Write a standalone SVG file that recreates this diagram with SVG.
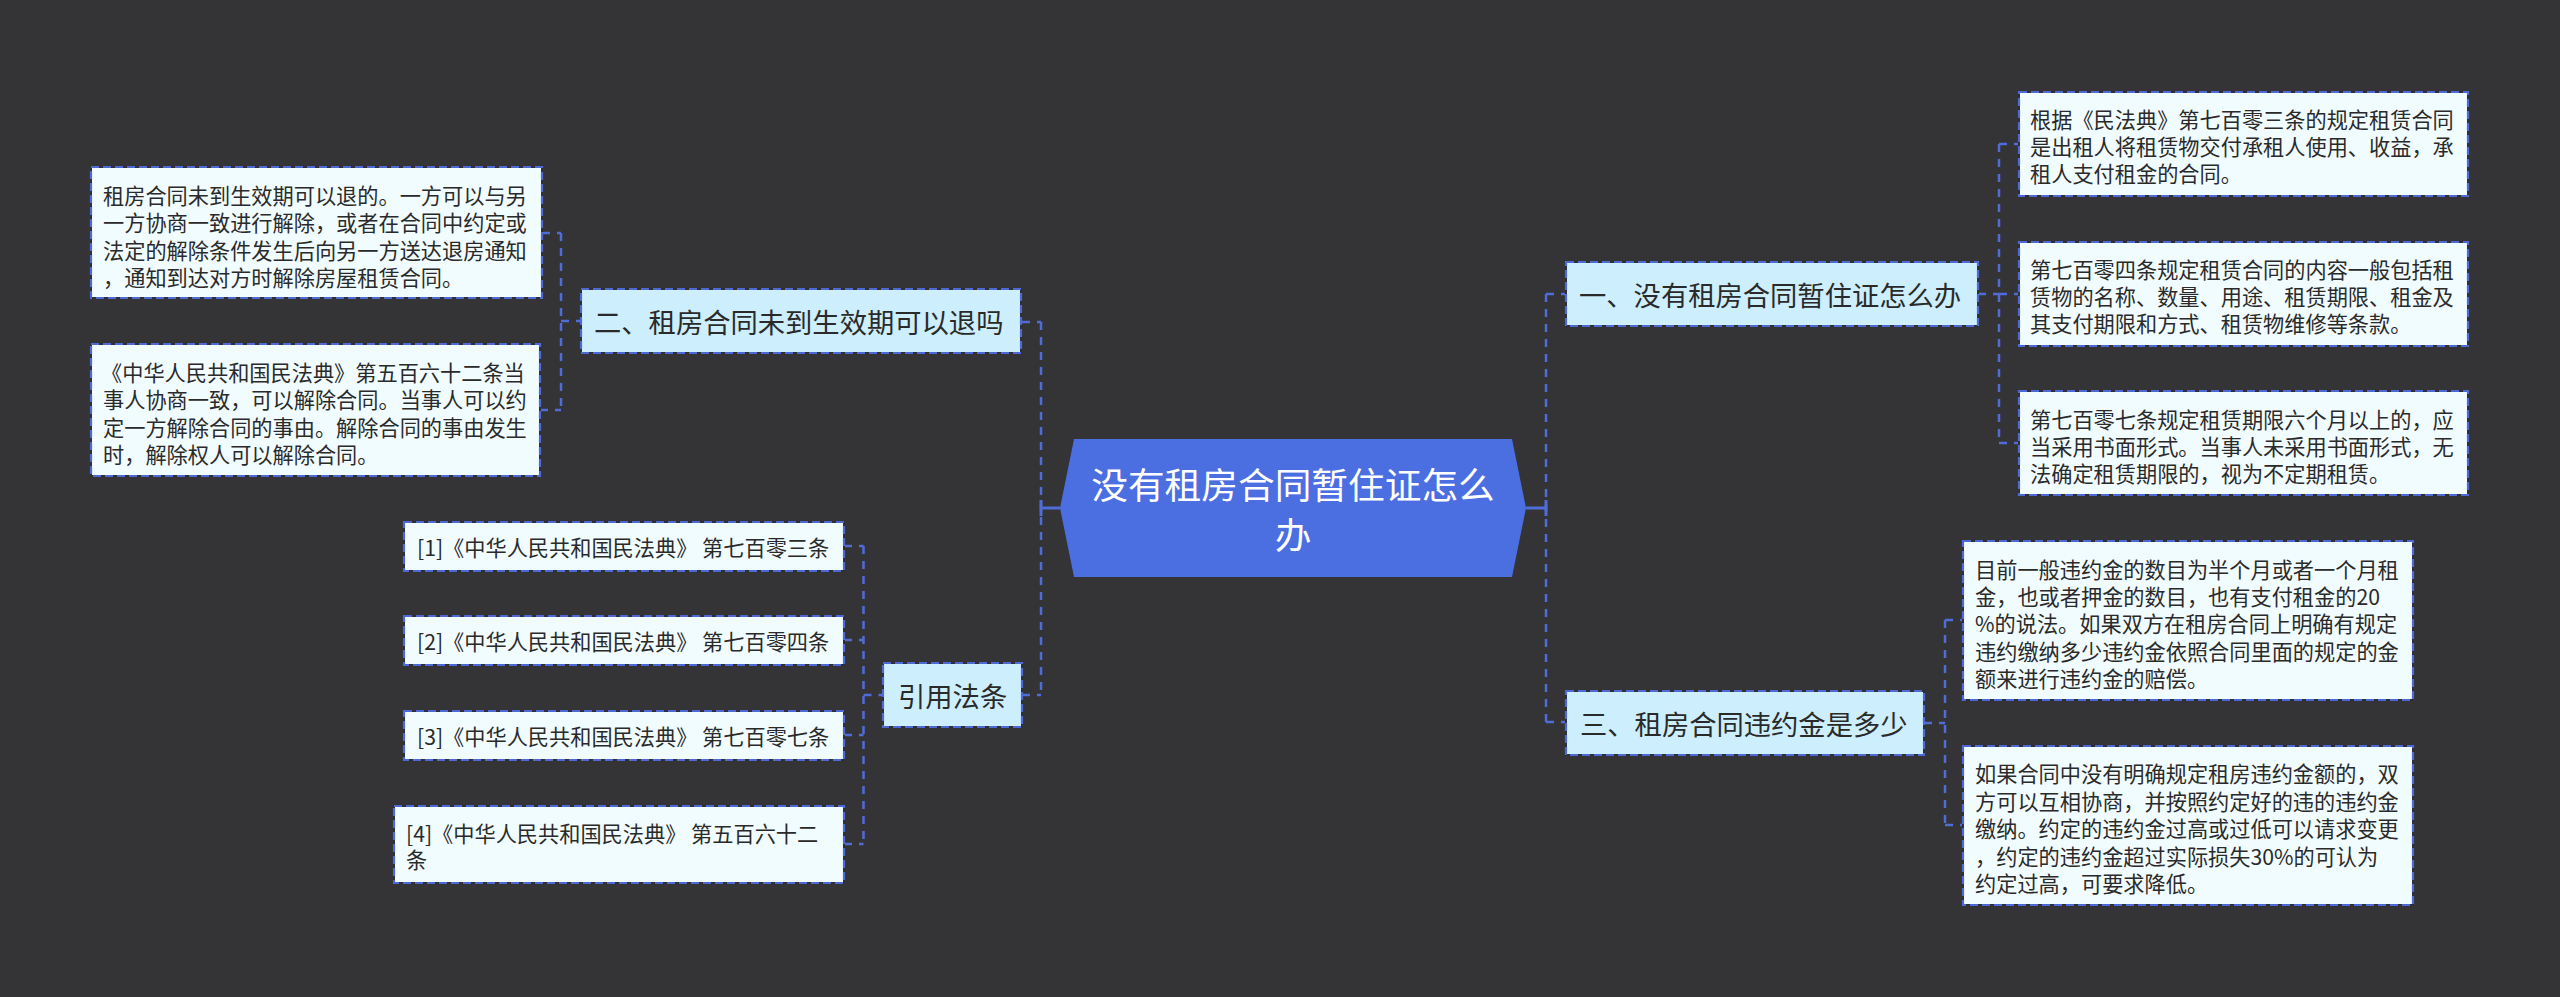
<svg xmlns="http://www.w3.org/2000/svg" width="2560" height="997" viewBox="0 0 2560 997">
<style>
.bg{fill:#343335}
.root{fill:#4b6ee1}
.l1{fill:#cdeefd;stroke:#2e2e38;stroke-width:2}
.leaf{fill:#f1fcff;stroke:#2e2e38;stroke-width:2}
.bd{fill:none;stroke:#4f69d4;stroke-width:2.2;stroke-dasharray:8 4}
.t{font-family:"Noto Sans CJK SC","Noto Sans",sans-serif;fill:#2a2a2a;dominant-baseline:central}
.ts{font-size:21.2px}
.tm{font-size:27.3px}
.tr{font-size:36.7px;fill:#ffffff;text-anchor:middle}
.c{fill:none;stroke:#4f6cd8;stroke-width:2.5;stroke-dasharray:8 7}
.cs{fill:none;stroke:#4f6cd8;stroke-width:3}
</style>
<rect class="bg" x="0" y="0" width="2560" height="997"/>

<g id="connectors">
  <!-- left main -->
  <path class="cs" d="M1060,508 H1041 M1041,500 V516"/>
  <path class="c" d="M1041,322 V695"/>
  <path class="c" d="M1022,322 H1041 M1022,695 H1041"/>
  <!-- node 二 bracket -->
  <path class="c" d="M561,233 V410 M542,233 H561 M540,410 H561 M561,321 H581"/>
  <!-- 引用法条 bracket -->
  <path class="c" d="M863.5,546 V844 M844,546 H863.5 M844,640 H863.5 M844,735 H863.5 M844,844 H863.5 M863.5,695 H883"/>
  <!-- right main -->
  <path class="cs" d="M1526,508 H1546 M1546,500 V516"/>
  <path class="c" d="M1546,294 V722"/>
  <path class="c" d="M1546,294 H1566 M1546,722 H1566"/>
  <!-- node 一 bracket -->
  <path class="c" d="M1999,144 V443 M1999,144 H2019 M1999,294 H2019 M1999,443 H2019 M1978,294 H1999"/>
  <!-- node 三 bracket -->
  <path class="c" d="M1945,620 V825 M1945,620 H1963 M1945,825 H1963 M1924,723 H1945"/>
</g>

<g id="root">
  <polygon class="root" points="1060,508 1074,439 1512,439 1526,508 1512,577 1074,577"/>
  <text class="t tr" x="1293" y="483">没有租房合同暂住证怎么</text>
  <text class="t tr" x="1293" y="533">办</text>
</g>

<g id="n2">
  <rect class="l1" x="581" y="289" width="440" height="64"/>
  <rect class="bd" x="581" y="289" width="440" height="64"/>
  <text class="t tm" x="594" y="321">二、租房合同未到生效期可以退吗</text>
</g>

<g id="n2a">
  <rect class="leaf" x="91" y="167" width="451" height="131"/>
  <rect class="bd" x="91" y="167" width="451" height="131"/>
  <text class="t ts" x="103" y="194">租房合同未到生效期可以退的。一方可以与另</text>
  <text class="t ts" x="103" y="221.5">一方协商一致进行解除，或者在合同中约定或</text>
  <text class="t ts" x="103" y="249">法定的解除条件发生后向另一方送达退房通知</text>
  <text class="t ts" x="103" y="276.5">，通知到达对方时解除房屋租赁合同。</text>
</g>

<g id="n2b">
  <rect class="leaf" x="91" y="344" width="449" height="132"/>
  <rect class="bd" x="91" y="344" width="449" height="132"/>
  <text class="t ts" x="101" y="371">《中华人民共和国民法典》第五百六十二条当</text>
  <text class="t ts" x="103" y="398.5">事人协商一致，可以解除合同。当事人可以约</text>
  <text class="t ts" x="103" y="426">定一方解除合同的事由。解除合同的事由发生</text>
  <text class="t ts" x="103" y="453.5">时，解除权人可以解除合同。</text>
</g>

<g id="ref">
  <rect class="l1" x="883" y="663" width="139" height="64"/>
  <rect class="bd" x="883" y="663" width="139" height="64"/>
  <text class="t tm" x="898" y="695">引用法条</text>
</g>

<g id="ref1">
  <rect class="leaf" x="404" y="522" width="440" height="49"/>
  <rect class="bd" x="404" y="522" width="440" height="49"/>
  <text class="t ts" x="417" y="546.5">[1]《中华人民共和国民法典》 第七百零三条</text>
</g>
<g id="ref2">
  <rect class="leaf" x="404" y="616" width="440" height="49"/>
  <rect class="bd" x="404" y="616" width="440" height="49"/>
  <text class="t ts" x="417" y="640.5">[2]《中华人民共和国民法典》 第七百零四条</text>
</g>
<g id="ref3">
  <rect class="leaf" x="404" y="711" width="440" height="49"/>
  <rect class="bd" x="404" y="711" width="440" height="49"/>
  <text class="t ts" x="417" y="735.5">[3]《中华人民共和国民法典》 第七百零七条</text>
</g>
<g id="ref4">
  <rect class="leaf" x="394" y="806" width="450" height="77"/>
  <rect class="bd" x="394" y="806" width="450" height="77"/>
  <text class="t ts" x="406" y="832">[4]《中华人民共和国民法典》 第五百六十二</text>
  <text class="t ts" x="406" y="858">条</text>
</g>

<g id="n1">
  <rect class="l1" x="1566" y="262" width="412" height="64"/>
  <rect class="bd" x="1566" y="262" width="412" height="64"/>
  <text class="t tm" x="1579" y="294">一、没有租房合同暂住证怎么办</text>
</g>

<g id="n1a">
  <rect class="leaf" x="2019" y="92" width="449" height="104"/>
  <rect class="bd" x="2019" y="92" width="449" height="104"/>
  <text class="t ts" x="2030" y="118">根据《民法典》第七百零三条的规定租赁合同</text>
  <text class="t ts" x="2030" y="145">是出租人将租赁物交付承租人使用、收益，承</text>
  <text class="t ts" x="2030" y="172">租人支付租金的合同。</text>
</g>
<g id="n1b">
  <rect class="leaf" x="2019" y="242" width="449" height="104"/>
  <rect class="bd" x="2019" y="242" width="449" height="104"/>
  <text class="t ts" x="2030" y="268">第七百零四条规定租赁合同的内容一般包括租</text>
  <text class="t ts" x="2030" y="295">赁物的名称、数量、用途、租赁期限、租金及</text>
  <text class="t ts" x="2030" y="322">其支付期限和方式、租赁物维修等条款。</text>
</g>
<g id="n1c">
  <rect class="leaf" x="2019" y="391" width="449" height="104"/>
  <rect class="bd" x="2019" y="391" width="449" height="104"/>
  <text class="t ts" x="2030" y="418">第七百零七条规定租赁期限六个月以上的，应</text>
  <text class="t ts" x="2030" y="445">当采用书面形式。当事人未采用书面形式，无</text>
  <text class="t ts" x="2030" y="472">法确定租赁期限的，视为不定期租赁。</text>
</g>

<g id="n3">
  <rect class="l1" x="1566" y="691" width="358" height="64"/>
  <rect class="bd" x="1566" y="691" width="358" height="64"/>
  <text class="t tm" x="1580" y="723">三、租房合同违约金是多少</text>
</g>

<g id="n3a">
  <rect class="leaf" x="1963" y="541" width="450" height="159"/>
  <rect class="bd" x="1963" y="541" width="450" height="159"/>
  <text class="t ts" x="1975" y="568">目前一般违约金的数目为半个月或者一个月租</text>
  <text class="t ts" x="1975" y="595">金，也或者押金的数目，也有支付租金的20</text>
  <text class="t ts" x="1975" y="622.5">%的说法。如果双方在租房合同上明确有规定</text>
  <text class="t ts" x="1975" y="650">违约缴纳多少违约金依照合同里面的规定的金</text>
  <text class="t ts" x="1975" y="677">额来进行违约金的赔偿。</text>
</g>
<g id="n3b">
  <rect class="leaf" x="1963" y="746" width="450" height="159"/>
  <rect class="bd" x="1963" y="746" width="450" height="159"/>
  <text class="t ts" x="1975" y="772.5">如果合同中没有明确规定租房违约金额的，双</text>
  <text class="t ts" x="1975" y="800">方可以互相协商，并按照约定好的违的违约金</text>
  <text class="t ts" x="1975" y="827.5">缴纳。约定的违约金过高或过低可以请求变更</text>
  <text class="t ts" x="1975" y="855">，约定的违约金超过实际损失30%的可认为</text>
  <text class="t ts" x="1975" y="882">约定过高，可要求降低。</text>
</g>
</svg>
